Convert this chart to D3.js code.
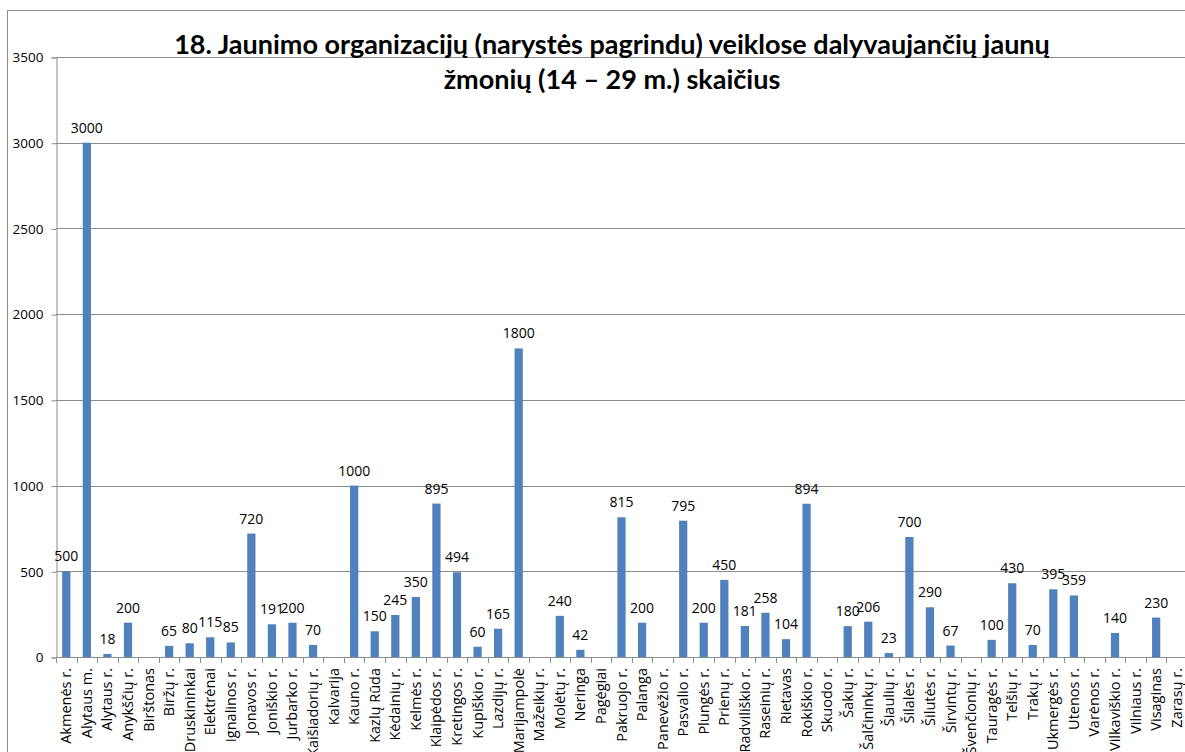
<!DOCTYPE html>
<html>
<head>
<meta charset="utf-8">
<script src="https://cdn.jsdelivr.net/npm/d3@7"></script>
<style>
  body { margin: 0; background: #fff; overflow: hidden; }
  svg { display: block; }
  text { font-family: "Open Sans", sans-serif; }
</style>
</head>
<body>
<svg id="chart" width="1185" height="752"></svg>
<script>
// duomenys
var categories = ["Akmenės r.", "Alytaus m.", "Alytaus r.", "Anykščių r.", "Birštonas", "Biržų r.", "Druskininkai",
  "Elektrėnai", "Ignalinos r.", "Jonavos r.", "Joniškio r.", "Jurbarko r.", "Kaišiadorių r.", "Kalvarija",
  "Kauno r.", "Kazlų Rūda", "Kėdainių r.", "Kelmės r.", "Klaipėdos r.", "Kretingos r.", "Kupiškio r.",
  "Lazdijų r.", "Marijampolė", "Mažeikių r.", "Molėtų r.", "Neringa", "Pagėgiai", "Pakruojo r.", "Palanga",
  "Panevėžio r.", "Pasvalio r.", "Plungės r.", "Prienų r.", "Radviliškio r.", "Raseinių r.", "Rietavas",
  "Rokiškio r.", "Skuodo r.", "Šakių r.", "Šalčininkų r.", "Šiaulių r.", "Šilalės r.", "Šilutės r.",
  "Širvintų r.", "Švenčionių r.", "Tauragės r.", "Telšių r.", "Trakų r.", "Ukmergės r.", "Utenos r.",
  "Varėnos r.", "Vilkaviškio r.", "Vilniaus r.", "Visaginas", "Zarasų r."];
var values = [500, 3000, 18, 200, null, 65, 80,
  115, 85, 720, 191, 200, 70, null,
  1000, 150, 245, 350, 895, 494, 60,
  165, 1800, null, 240, 42, null, 815, 200,
  null, 795, 200, 450, 181, 258, 104,
  894, null, 180, 206, 23, 700, 290,
  67, null, 100, 430, 70, 395, 359,
  null, 140, null, 230, null];
var yTicks = [0, 500, 1000, 1500, 2000, 2500, 3000, 3500];
var titleLines = ["18. Jaunimo organizacijų (narystės pagrindu) veiklose dalyvaujančių jaunų",
  "žmonių (14 – 29 m.) skaičius"];

function drawChart() {
  var svg = d3.select("#chart");
  var mLeft = 56, mRight = 1187, mTop = 57, mBottom = 657;

  // rėmelis
  svg.append("rect").attr("x", 7.5).attr("y", 10.5).attr("width", 1190).attr("height", 760)
    .attr("fill", "none").attr("stroke", "#8c8c8c").attr("stroke-width", 1);

  var x = d3.scaleBand().domain(categories).range([mLeft, mRight]).paddingInner(0.6).paddingOuter(0.3);
  var y = d3.scaleLinear().domain([0, 3500]).range([mBottom, mTop]);

  // tinklelis
  svg.append("g").selectAll("line").data(yTicks.slice(1)).enter().append("line")
    .attr("x1", mLeft).attr("x2", 1185)
    .attr("y1", function (d) { return Math.round(y(d)) + 0.5; })
    .attr("y2", function (d) { return Math.round(y(d)) + 0.5; })
    .attr("stroke", "#8c8c8c");

  // Y ašis
  var yAxis = svg.append("g").attr("transform", "translate(" + (mLeft + 0.5) + ",0.5)")
    .call(d3.axisLeft(y).tickValues(yTicks).tickSize(5).tickPadding(8).tickFormat(d3.format("d")));
  yAxis.selectAll("path, line").attr("stroke", "#8c8c8c");
  yAxis.selectAll("text").attr("font-size", 13.5).attr("fill", "#000")
    .style("font-family", "'Open Sans', sans-serif");

  // X ašis
  svg.append("line").attr("x1", mLeft).attr("x2", 1185)
    .attr("y1", mBottom + 0.5).attr("y2", mBottom + 0.5).attr("stroke", "#8c8c8c");
  var bounds = d3.range(categories.length + 1).map(function (i) {
    return mLeft + i * (mRight - mLeft) / categories.length;
  });
  svg.append("g").selectAll("line").data(bounds).enter().append("line")
    .attr("x1", function (d) { return Math.round(d) + 0.5; })
    .attr("x2", function (d) { return Math.round(d) + 0.5; })
    .attr("y1", mBottom).attr("y2", mBottom + 6).attr("stroke", "#8c8c8c");

  svg.append("g").selectAll("text").data(categories).enter().append("text")
    .attr("transform", function (d) {
      return "translate(" + (x(d) + x.bandwidth() / 2 + 5) + "," + (mBottom + 11) + ") rotate(-90)";
    })
    .attr("text-anchor", "end")
    .attr("font-size", 14.5)
    .text(function (d) { return d; });

  // stulpeliai
  var data = categories.map(function (c, i) { return { name: c, value: values[i] }; })
    .filter(function (d) { return d.value != null; });

  svg.append("g").selectAll("rect").data(data).enter().append("rect")
    .attr("x", function (d) { return x(d.name); })
    .attr("width", x.bandwidth())
    .attr("y", function (d) { return y(d.value); })
    .attr("height", function (d) { return mBottom - y(d.value); })
    .attr("fill", "#4f81bd");

  svg.append("g").selectAll("text").data(data).enter().append("text")
    .attr("x", function (d) { return x(d.name) + x.bandwidth() / 2; })
    .attr("y", function (d) { return y(d.value) - 10; })
    .attr("text-anchor", "middle")
    .attr("font-size", 14)
    .text(function (d) { return d.value; });

  // pavadinimas
  svg.append("g").selectAll("text").data(titleLines).enter().append("text")
    .attr("x", 612).attr("y", function (d, i) { return 54 + i * 35; })
    .attr("text-anchor", "middle")
    .attr("font-size", 27).attr("font-weight", "bold")
    .style("font-family", "Lato, sans-serif")
    .text(function (d) { return d; });
}
drawChart();
</script>
</body>
</html>
